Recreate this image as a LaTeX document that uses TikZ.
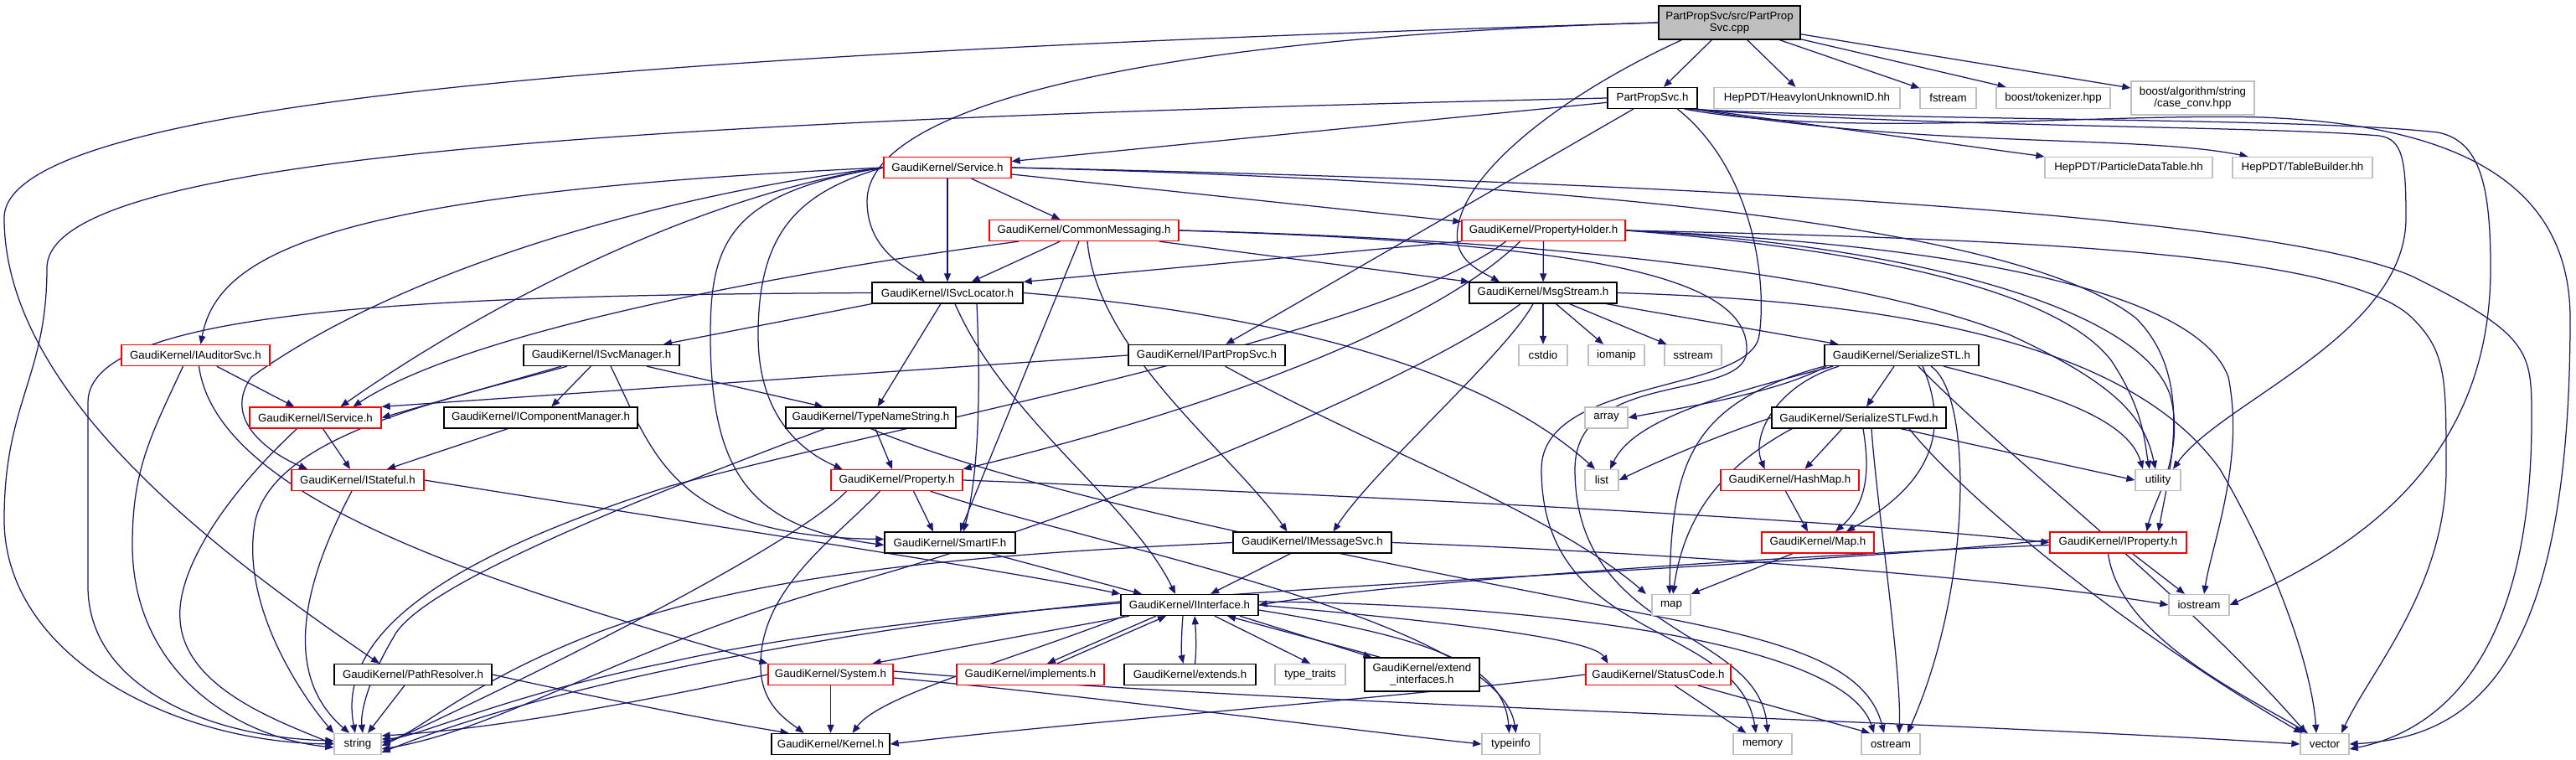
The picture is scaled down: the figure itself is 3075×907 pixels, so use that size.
\documentclass[tikz,border=0pt]{standalone}
\usepackage{fontspec}
\setmainfont{Liberation Sans}
\usetikzlibrary{arrows.meta,backgrounds}
\definecolor{edgec}{RGB}{25,25,112}
\definecolor{grayb}{RGB}{191,191,191}
\begin{document}
\begin{tikzpicture}[x=1pt,y=-1pt,
  nd/.style={draw=black, line width=1.3pt, minimum height=25pt, inner sep=0pt, fill=white,
     font=\fontsize{13.3}{14.5}\selectfont, text=black},
  bk/.style={nd},
  rd/.style={nd, draw=red},
  gy/.style={nd, draw=grayb},
  edg/.style={draw=edgec, line width=1.25pt, -{Triangle[length=10pt,width=8pt]}},
]
\useasboundingbox (0,0) rectangle (3075,907);

% ---------- nodes ----------
\node[nd, fill=grayb, minimum width=169pt, minimum height=40pt, align=center] (root) at (2064.5,27) {PartPropSvc/src/PartProp\\Svc.cpp};
\node[bk, minimum width=107pt] (pps) at (1972.5,117) {PartPropSvc.h};
\node[gy, minimum width=222pt] (heavy) at (2157,117) {HepPDT/HeavyIonUnknownID.hh};
\node[gy, minimum width=67pt] (fstream) at (2325.5,117) {fstream};
\node[gy, minimum width=136pt] (tok) at (2451,117) {boost/tokenizer.hpp};
\node[gy, minimum width=147pt, minimum height=40pt, align=center] (case) at (2617.5,117) {boost/algorithm/string\\/case\_conv.hpp};
\node[gy, minimum width=200pt] (pdt) at (2541,200) {HepPDT/ParticleDataTable.hh};
\node[gy, minimum width=167pt] (tb) at (2748.5,200) {HepPDT/TableBuilder.hh};
\node[rd, minimum width=152pt] (service) at (1131,200) {GaudiKernel/Service.h};
\node[rd, minimum width=226pt] (cm) at (1294,275) {GaudiKernel/CommonMessaging.h};
\node[rd, minimum width=195pt] (ph) at (1842.5,275) {GaudiKernel/PropertyHolder.h};
\node[bk, minimum width=180pt] (isl) at (1131,349.5) {GaudiKernel/ISvcLocator.h};
\node[bk, minimum width=176pt] (msg) at (1842,349.5) {GaudiKernel/MsgStream.h};
\node[rd, minimum width=177pt] (iaud) at (233.5,424) {GaudiKernel/IAuditorSvc.h};
\node[bk, minimum width=186pt] (ismgr) at (718,424) {GaudiKernel/ISvcManager.h};
\node[bk, minimum width=187pt] (ipps) at (1440.5,424) {GaudiKernel/IPartPropSvc.h};
\node[gy, minimum width=58pt] (cstdio) at (1842,424) {cstdio};
\node[gy, minimum width=67pt] (iomanip) at (1929.5,424) {iomanip};
\node[gy, minimum width=68pt] (sstream) at (2021,424) {sstream};
\node[bk, minimum width=184pt] (sstl) at (2270,424) {GaudiKernel/SerializeSTL.h};
\node[rd, minimum width=157pt] (iserv) at (376.5,498.5) {GaudiKernel/IService.h};
\node[bk, minimum width=231pt] (icm) at (645.5,498.5) {GaudiKernel/IComponentManager.h};
\node[bk, minimum width=203pt] (tns) at (1039.5,498.5) {GaudiKernel/TypeNameString.h};
\node[gy, minimum width=51pt] (array) at (1917.5,498.5) {array};
\node[bk, minimum width=208pt] (sfwd) at (2219,498.5) {GaudiKernel/SerializeSTLFwd.h};
\node[rd, minimum width=158pt] (istate) at (427,573) {GaudiKernel/IStateful.h};
\node[rd, minimum width=157pt] (prop) at (1070.5,573) {GaudiKernel/Property.h};
\node[gy, minimum width=40pt] (list) at (1912,573) {list};
\node[rd, minimum width=165pt] (hashmap) at (2136.5,573) {GaudiKernel/HashMap.h};
\node[gy, minimum width=54pt] (utility) at (2576,573) {utility};
\node[bk, minimum width=156pt] (smartif) at (1134,647.5) {GaudiKernel/SmartIF.h};
\node[bk, minimum width=189pt] (imsg) at (1566.5,647.5) {GaudiKernel/IMessageSvc.h};
\node[rd, minimum width=134pt] (mapH) at (2170,647.5) {GaudiKernel/Map.h};
\node[rd, minimum width=163pt] (iprop) at (2528.5,647.5) {GaudiKernel/IProperty.h};
\node[bk, minimum width=164pt] (iint) at (1420,722) {GaudiKernel/IInterface.h};
\node[gy, minimum width=46pt] (map) at (1995,722) {map};
\node[gy, minimum width=72pt] (iostream) at (2625,722) {iostream};
\node[bk, minimum width=188pt] (pathres) at (493,805) {GaudiKernel/PathResolver.h};
\node[rd, minimum width=149pt] (system) at (991.5,805) {GaudiKernel/System.h};
\node[rd, minimum width=176pt] (impl) at (1230,805) {GaudiKernel/implements.h};
\node[bk, minimum width=157pt] (ext) at (1420.5,805) {GaudiKernel/extends.h};
\node[gy, minimum width=84pt] (tt) at (1564,805) {type\_traits};
\node[bk, minimum width=137pt, minimum height=40pt, align=center] (extif) at (1697.5,805) {GaudiKernel/extend\\\_interfaces.h};
\node[rd, minimum width=173pt] (status) at (1979.5,805) {GaudiKernel/StatusCode.h};
\node[gy, minimum width=56pt] (string) at (427,888) {string};
\node[bk, minimum width=141pt] (kernel) at (991.5,888) {GaudiKernel/Kernel.h};
\node[gy, minimum width=69pt] (typeinfo) at (1803.5,888) {typeinfo};
\node[gy, minimum width=70pt] (memory) at (2104,888) {memory};
\node[gy, minimum width=70pt] (ostream) at (2257,888) {ostream};
\node[gy, minimum width=58pt] (vector) at (2775,888) {vector};

% ---------- edges ----------
\begin{scope}[on background layer]
\fill[white] (0,0) rectangle (3075,907);
% root
\draw[edg] (root) -- (pps);
\draw[edg] (root) -- (heavy);
\draw[edg] (root) -- (fstream);
\draw[edg] (root) -- (tok);
\draw[edg] (root) -- (case);
\draw[edg] (root.west) .. controls (1350,45) and (1035,130) .. (1035,240) .. controls (1035,300) and (1085,320) .. ([xshift=-27pt]isl.north);
\draw[edg] (root.west) .. controls (900,60) and (5,110) .. (5,260) .. controls (5,470) and (260,660) .. ([xshift=-40pt]pathres.north);
\draw[edg] ([xshift=-57pt]root.south) .. controls (1850,120) and (1730,220) .. (1740,290) .. controls (1745,315) and (1770,325) .. ([xshift=-52pt]msg.north);
% PartPropSvc.h
\draw[edg] (pps) -- (service);
\draw[edg] (pps) -- (ipps);
\draw[edg] (pps.south east) -- (pdt.north west);
\draw[edg] ([xshift=-4pt]pps.south east) .. controls (2300,178) and (2550,160) .. ([xshift=-65pt]tb.north);
\draw[edg] ([xshift=-8pt]pps.south east) .. controls (2300,152) and (2700,150) .. (2840,162) .. controls (2868,166) and (2872,190) .. (2872,260) .. controls (2872,400) and (2650,480) .. ([xshift=18pt]utility.north);
\draw[edg] ([xshift=-12pt]pps.south east) .. controls (2300,145) and (2750,140) .. (2910,158) .. controls (2960,168) and (2973,220) .. (2973,320) .. controls (2973,560) and (2800,660) .. (iostream.east);
\draw[edg] ([xshift=-16pt]pps.south east) .. controls (2200,165) and (2500,135) .. (2700,140) .. controls (2900,148) and (3068,200) .. (3068,380) .. controls (3068,800) and (2950,880) .. (vector.east);
\draw[edg] (pps.west) .. controls (700,145) and (56,190) .. (56,320) .. controls (56,450) and (5,480) .. (5,620) .. controls (5,780) and (200,885) .. (string.west);
\draw[edg] ([xshift=30pt]pps.south) .. controls (2090,200) and (2110,330) .. (2100,400) .. controls (2090,470) and (1840,450) .. (1840,560) .. controls (1840,770) and (2075,740) .. ([xshift=-8pt]memory.north);
% Service.h
\draw[edg] (service) -- (cm);
\draw[edg] (service) -- (ph);
\draw[edg] (service) -- (isl);
\draw[edg] (service.west) .. controls (400,230) and (260,300) .. ([xshift=6pt]iaud.north);
\draw[edg] (service.west) .. controls (800,230) and (480,320) .. (300,450) .. controls (265,500) and (320,540) .. ([xshift=-60pt]istate.north);
\draw[edg] (service.west) .. controls (850,230) and (600,350) .. ([xshift=30pt]iserv.north);
\draw[edg] (service.west) .. controls (870,230) and (848,290) .. (848,400) .. controls (848,570) and (900,630) .. ([yshift=-3pt]smartif.west);
\draw[edg] (service.west) .. controls (950,230) and (905,280) .. (905,400) .. controls (905,500) and (960,540) .. ([xshift=-65pt]prop.north);
\draw[edg] (service.east) .. controls (1800,215) and (2400,260) .. (2550,380) .. controls (2620,450) and (2590,560) .. ([xshift=48pt]iprop.north);
\draw[edg] (service.east) .. controls (1900,215) and (2700,250) .. (2880,330) .. controls (3022,400) and (3022,420) .. (3022,500) .. controls (3022,800) and (2900,875) .. ([yshift=-6pt]vector.east);
% CommonMessaging.h
\draw[edg] ([xshift=-78pt]cm.south) .. controls (900,330) and (550,400) .. ([xshift=45pt]iserv.north);
\draw[edg] (cm) -- (isl);
\draw[edg] ([xshift=-6pt]cm.south) -- ([xshift=12pt]smartif.north);
\draw[edg] ([xshift=4pt]cm.south) .. controls (1310,420) and (1470,540) .. ([xshift=-30pt]imsg.north);
\draw[edg] ([xshift=90pt]cm.south) -- ([xshift=-88pt]msg.north);
\draw[edg] (cm.east) .. controls (1800,285) and (2200,320) .. (2400,400) .. controls (2530,460) and (2560,500) .. ([xshift=-3pt]utility.north);
\draw[edg] (cm.east) .. controls (1900,290) and (2090,330) .. (2085,420) .. controls (2080,480) and (1880,440) .. (1880,560) .. controls (1880,760) and (2100,750) .. ([xshift=6pt]memory.north);
% PropertyHolder.h
\draw[edg] (ph.south west) -- (isl.north east);
\draw[edg] (ph) -- (msg);
\draw[edg] ([xshift=-28pt]ph.south) .. controls (1700,400) and (1400,500) .. (prop.north east);
\draw[edg] ([xshift=-45pt]ph.south) .. controls (1650,400) and (1100,500) .. (800,580) .. controls (550,660) and (400,750) .. ([xshift=-3pt]string.north);
\draw[edg] (ph.east) .. controls (2200,295) and (2450,340) .. (2520,430) .. controls (2560,490) and (2560,530) .. ([xshift=-10pt]utility.north);
\draw[edg] (ph.east) .. controls (2250,290) and (2550,360) .. (2590,470) .. controls (2610,540) and (2570,600) .. ([xshift=34pt]iprop.north);
\draw[edg] (ph.east) .. controls (2300,290) and (2620,340) .. (2660,450) .. controls (2680,550) and (2640,650) .. ([xshift=6pt]iostream.north);
\draw[edg] (ph.east) .. controls (2400,285) and (2800,300) .. (2880,380) .. controls (2920,420) and (2920,450) .. (2920,560) .. controls (2920,700) and (2830,800) .. ([xshift=20pt]vector.north);
% ISvcLocator.h
\draw[edg] (isl.south west) -- ([xshift=74pt]ismgr.north);
\draw[edg] (isl) -- (tns);
\draw[edg] ([xshift=35pt]isl.south) .. controls (1170,450) and (1170,560) .. ([xshift=16pt]smartif.north);
\draw[edg] ([xshift=9pt]isl.south) .. controls (1200,500) and (1350,600) .. ([xshift=-17pt]iint.north);
\draw[edg] (isl.east) .. controls (1450,368) and (1750,420) .. ([xshift=-8pt]list.north);
\draw[edg] (isl.west) .. controls (500,352) and (105,370) .. (105,480) -- (105,700) .. controls (105,820) and (250,880) .. ([yshift=4pt]string.west);
% MsgStream.h
\draw[edg] (msg) -- (sstl);
\draw[edg] (msg) -- (cstdio);
\draw[edg] (msg) -- (iomanip);
\draw[edg] (msg) -- (sstream);
\draw[edg] ([xshift=-12pt]msg.south) .. controls (1800,420) and (1640,560) .. ([xshift=25pt]imsg.north);
\draw[edg] ([xshift=-27pt]msg.south) .. controls (1700,450) and (1300,620) .. (1000,700) .. controls (750,770) and (600,870) .. ([yshift=-6pt]string.east);
\draw[edg] (msg.east) .. controls (2300,360) and (2550,420) .. (2650,560) .. controls (2720,680) and (2760,800) .. ([xshift=-10pt]vector.north);
% IAuditorSvc.h
\draw[edg] (iaud) -- (iserv);
\draw[edg] ([xshift=-15pt]iaud.south) .. controls (180,520) and (158,560) .. (158,650) .. controls (158,800) and (280,880) .. ([yshift=-4pt]string.west);
\draw[edg] ([xshift=4pt]iaud.south) .. controls (260,600) and (600,700) .. (system.north west);
% ISvcManager.h
\draw[edg] ([xshift=-48pt]ismgr.south) -- (iserv.east);
\draw[edg] ([xshift=-41pt]ismgr.south) .. controls (520,480) and (330,520) .. (305,620) .. controls (285,720) and (360,830) .. (string.north west);
\draw[edg] (ismgr) -- (icm);
\draw[edg] ([xshift=11pt]ismgr.south) .. controls (780,540) and (800,640) .. ([yshift=4pt]smartif.west);
\draw[edg] ([xshift=54pt]ismgr.south) -- ([xshift=-57pt]tns.north);
% IPartPropSvc.h
\draw[edg] (ipps.west) -- (iserv.north east);
\draw[edg] ([xshift=22pt]ipps.south) .. controls (1650,540) and (1850,610) .. ([xshift=-30pt]map.north);
% IComponentManager.h
\draw[edg] (icm) -- ([xshift=35pt]istate.north);
% IService.h
\draw[edg] (iserv) -- (istate);
\draw[edg] ([xshift=-22pt]iserv.south) .. controls (270,590) and (210,680) .. (215,740) .. controls (220,820) and (330,860) .. (string.west);
% IStateful.h
\draw[edg] ([xshift=-7pt]istate.south) .. controls (370,680) and (330,800) .. ([xshift=-10pt]string.north);
\draw[edg] (istate.east) .. controls (800,620) and (1200,680) .. (iint.north west);
% TypeNameString.h
\draw[edg] (tns) -- (prop);
\draw[edg] ([xshift=-55pt]tns.south) .. controls (750,600) and (500,700) .. (470,760) .. controls (440,810) and (430,850) .. ([xshift=6pt]string.north);
\draw[edg] (tns.south) .. controls (1250,600) and (1700,680) .. (2000,740) .. controls (2150,770) and (2230,800) .. ([xshift=-8pt]ostream.north);
% Property.h
\draw[edg] ([xshift=20pt]prop.south) -- ([xshift=-20pt]smartif.north);
\draw[edg] ([xshift=-60pt]prop.south) .. controls (950,650) and (650,800) .. ([yshift=-2pt]string.east);
\draw[edg] ([xshift=-20pt]prop.south) .. controls (1000,640) and (910,700) .. (908,790) .. controls (906,840) and (940,860) .. ([xshift=-32pt]kernel.north);
\draw[edg] (prop.east) .. controls (1600,590) and (2200,620) .. (iprop.west);
\draw[edg] ([xshift=40pt]prop.south) .. controls (1300,650) and (1790,740) .. ([xshift=6pt]typeinfo.north);
% SmartIF.h, IMessageSvc.h, IProperty.h
\draw[edg] (smartif) -- ([xshift=-57pt]iint.north);
\draw[edg] (imsg) -- ([xshift=25pt]iint.north);
\draw[edg] (imsg.east) .. controls (2000,660) and (2400,690) .. (iostream.west);
\draw[edg] (imsg.west) .. controls (1200,660) and (900,680) .. (700,760) .. controls (550,820) and (500,875) .. ([yshift=2pt]string.east);
\draw[edg] ([yshift=-3pt]iprop.west) .. controls (2200,660) and (1700,690) .. (iint.east);
\draw[edg] ([yshift=3pt]iprop.west) .. controls (2000,690) and (1200,700) .. (800,790) .. controls (600,830) and (500,880) .. ([yshift=6pt]string.east);
\draw[edg] (iprop) -- (iostream);
\draw[edg] ([xshift=-12pt]iprop.south) .. controls (2530,760) and (2680,830) .. ([xshift=-20pt]vector.north);
% IInterface.h
\draw[edg] ([xshift=-72pt]iint.south) -- ([xshift=50pt]system.north);
\draw[edg] ([xshift=-40pt]iint.south) -- ([xshift=20pt]impl.north);
\draw[edg] ([xshift=32pt]impl.north) -- ([xshift=-28pt]iint.south);
\draw[edg] ([xshift=-8pt]iint.south) .. controls (1410,760) and (1410,780) .. ([xshift=-8pt]ext.north);
\draw[edg] ([xshift=6pt]ext.north) .. controls (1428,780) and (1428,760) .. ([xshift=6pt]iint.south);
\draw[edg] ([xshift=60pt]iint.south) -- ([xshift=-60pt]extif.north);
\draw[edg] ([xshift=-50pt]extif.north) -- ([xshift=45pt]iint.south);
\draw[edg] ([xshift=30pt]iint.south) -- (tt.north);
\draw[edg] ([yshift=-6pt]iint.east) .. controls (1700,760) and (1795,790) .. ([xshift=-2pt]typeinfo.north);
\draw[edg] (iint.east) .. controls (1700,740) and (1900,760) .. ([xshift=-60pt]status.north);
\draw[edg] ([yshift=4pt]iint.east) .. controls (1800,720) and (2200,760) .. ([xshift=-20pt]ostream.north);
\draw[edg] ([yshift=4pt]iint.west) .. controls (1100,740) and (700,800) .. ([yshift=-10pt]string.east);
\draw[edg] ([xshift=-78pt]iint.south) .. controls (1200,790) and (1050,830) .. ([xshift=26pt]kernel.north);
% System.h
\draw[edg] (system.west) .. controls (800,830) and (600,870) .. ([yshift=10pt]string.east);
\draw[edg] (system) -- (kernel);
\draw[edg] ([yshift=-4pt]system.east) .. controls (1300,830) and (1600,870) .. (typeinfo.west);
\draw[edg] ([yshift=4pt]system.east) .. controls (1500,840) and (2300,860) .. (vector.west);
% StatusCode.h
\draw[edg] (status.west) .. controls (1700,830) and (1300,860) .. (kernel.east);
\draw[edg] (status) -- (memory);
\draw[edg] (status) -- ([xshift=-25pt]ostream.north);
% PathResolver.h
\draw[edg] (pathres) -- ([xshift=12pt]string.north);
\draw[edg] (pathres.east) .. controls (700,830) and (850,860) .. ([xshift=-50pt]kernel.north);
% SerializeSTL.h
\draw[edg] (sstl) -- (sfwd);
\draw[edg] ([xshift=-75pt]sstl.south) .. controls (2120,460) and (2090,520) .. ([xshift=-30pt]hashmap.north);
\draw[edg] ([xshift=25pt]sstl.south) .. controls (2330,520) and (2300,580) .. ([xshift=34pt]mapH.north);
\draw[edg] (sstl.south west) .. controls (2020,480) and (1995,550) .. ([xshift=-2pt]map.north);
\draw[edg] ([xshift=-82pt]sstl.south) .. controls (2060,470) and (1950,500) .. ([xshift=10pt]list.north);
\draw[edg] ([xshift=-90pt]sstl.south) .. controls (2120,470) and (2000,488) .. (array.east);
\draw[edg] ([xshift=20pt]sstl.south) .. controls (2400,550) and (2600,700) .. ([xshift=-22pt]vector.north);
\draw[edg] ([xshift=35pt]sstl.south) .. controls (2355,470) and (2355,700) .. ([xshift=20pt]ostream.north);
\draw[edg] ([xshift=50pt]sstl.south) .. controls (2450,470) and (2540,500) .. ([xshift=-18pt]utility.north);
% SerializeSTLFwd.h
\draw[edg] ([xshift=-20pt]sfwd.south) -- ([xshift=18pt]hashmap.north);
\draw[edg] ([xshift=5pt]sfwd.south) .. controls (2232,560) and (2230,600) .. ([xshift=21pt]mapH.north);
\draw[edg] ([xshift=-80pt]sfwd.south) .. controls (2050,560) and (2010,620) .. ([xshift=2pt]map.north);
\draw[edg] (sfwd.west) .. controls (2050,520) and (1980,550) .. (list.east);
\draw[edg] ([xshift=60pt]sfwd.south) .. controls (2350,600) and (2550,760) .. ([xshift=-27pt]vector.north);
\draw[edg] ([xshift=15pt]sfwd.south) .. controls (2240,600) and (2270,800) .. ([xshift=10pt]ostream.north);
\draw[edg] ([xshift=50pt]sfwd.south) -- (utility.west);
% HashMap.h, Map.h
\draw[edg] ([xshift=-5pt]hashmap.south) -- ([xshift=-12pt]mapH.north);
\draw[edg] ([xshift=-30pt]mapH.south) -- (map.north east);
\end{scope}
\end{tikzpicture}
\end{document}
